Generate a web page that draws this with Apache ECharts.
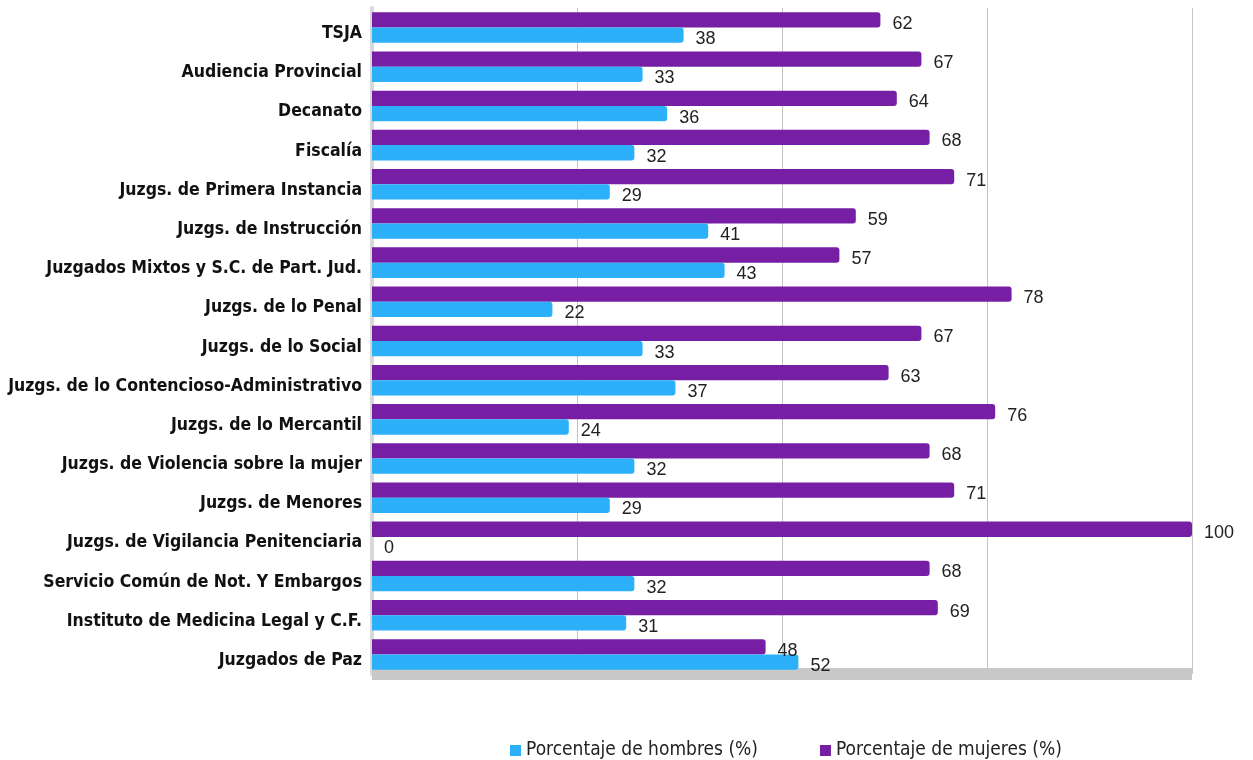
<!DOCTYPE html>
<html>
<head>
<meta charset="utf-8">
<script src="https://cdn.jsdelivr.net/npm/echarts@6/dist/echarts.min.js"></script>
<style>html,body{margin:0;padding:0;background:#fff}#c{width:1253px;height:760px}</style>
</head>
<body>
<div id="c"></div>
<script>
const categories = ["TSJA","Audiencia Provincial","Decanato","Fiscalía","Juzgs. de Primera Instancia","Juzgs. de Instrucción","Juzgados Mixtos y S.C. de Part. Jud.","Juzgs. de lo Penal","Juzgs. de lo Social","Juzgs. de lo Contencioso-Administrativo","Juzgs. de lo Mercantil","Juzgs. de Violencia sobre la mujer","Juzgs. de Menores","Juzgs. de Vigilancia Penitenciaria","Servicio Común de Not. Y Embargos","Instituto de Medicina Legal y C.F.","Juzgados de Paz"];
const mujeres = [62,67,64,68,71,59,57,78,67,63,76,68,71,100,68,69,48];
const hombres = [38,33,36,32,29,41,43,22,33,37,24,32,29,0,32,31,52];
const xTicks = [0,25,50,75,100];

const chart = echarts.init(document.getElementById('c'));
const labelStyle = {show:true, position:'right', distance:12, offset:[0,4], color:'#222', fontSize:18, fontFamily:'Liberation Sans, Arial, sans-serif'};
chart.setOption({
  animation:false,
  legend:{
    data:['Porcentaje de hombres (%)','Porcentaje de mujeres (%)'],
    top:736, left:505, itemWidth:11, itemHeight:11, itemGap:62, icon:'rect',
    textStyle:{fontSize:19, color:'#222', fontFamily:'DejaVu Sans Condensed, sans-serif'}
  },
  grid:{left:372, right:61, top:8, bottom:86},
  xAxis:{type:'value', min:xTicks[0], max:xTicks[xTicks.length-1], interval:25,
    axisLabel:{show:false}, axisTick:{show:false},
    axisLine:{show:true, lineStyle:{color:'#c8c8c8', width:12, cap:'butt'}},
    splitLine:{show:true, lineStyle:{color:'#c4c4c4', width:1}}
  },
  yAxis:{type:'category', data:categories, inverse:true,
    axisTick:{show:false},
    axisLine:{show:true, lineStyle:{color:'#d9d9d9', width:4}},
    axisLabel:{color:'#111', fontSize:17.5, fontWeight:'bold', margin:10, verticalAlign:'top', lineHeight:12, fontFamily:'DejaVu Sans Condensed, sans-serif'}
  },
  series:[
    {name:'Porcentaje de mujeres (%)', type:'bar', data:mujeres, barGap:'0%', barCategoryGap:'22%',
      itemStyle:{color:'#761fa5', borderRadius:[0,3,3,0]}, label:labelStyle},
    {name:'Porcentaje de hombres (%)', type:'bar', data:hombres,
      itemStyle:{color:'#2cb0fa', borderRadius:[0,3,3,0]}, label:labelStyle}
  ]
});
</script>
</body>
</html>
